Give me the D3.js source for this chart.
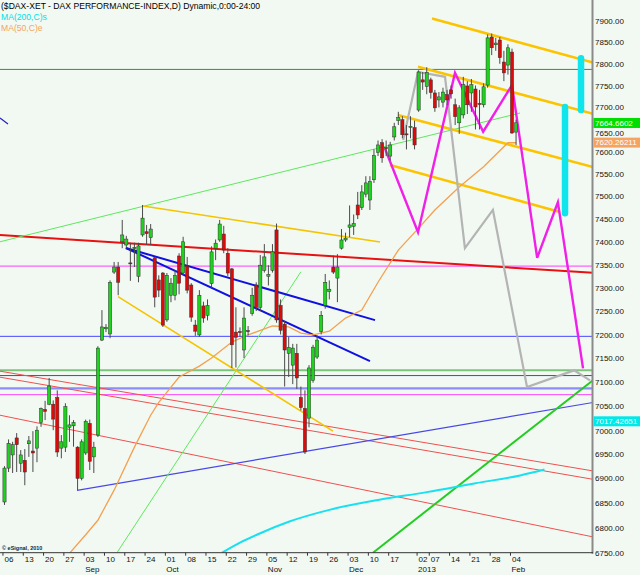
<!DOCTYPE html>
<html>
<head>
<meta charset="utf-8">
<script src="https://cdn.jsdelivr.net/npm/d3@7"></script>
<style>
  body { margin: 0; background: #fff; }
  svg { display: block; font-family: "Liberation Sans", Arial, sans-serif; }
</style>
</head>
<body>
<svg id="chart" width="640" height="575"></svg>
<script>
// daily bars, index 0 = 06 Aug 2012 (trading days only)
const open  = [6852,6921,6948,6983,6931,6937,6971,6956,6962,7015,7042,7053,7053,7067,6962,6964,7005,7008,6964,6900,
               6952,7013,6944,6989,7188,7212,7201,7334,7345,7400,7393,7354,7385,7325,7415,7422,7409,7365,7317,7332,
               7231,7284,7284,7369,7332,7347,7306,7220,7199,7261,7241,7309,7386,7404,7417,7375,7341,7205,7206,7167,
               7208,7245,7306,7258,7338,7325,7338,7426,7262,7222,7160,7135,7160,7067,7044,7024,7103,7152,7206,7262,
               7292,7345,7321,7386,7404,7432,7434,7481,7475,7505,7492,7537,7598,7620,7609,7590,7633,7670,7672,7640,
               7655,7654,7694,7763,7748,7763,7733,7717,7712,7729,7740,7706,7665,7683,7749,7733,7742,7709,7706,7751,
               7862,7844,7855,7804,7797,7827,7644];
const high  = [6925,6980,6975,6993,6958,6960,6987,6997,7007,7046,7060,7108,7061,7082,6989,7055,7030,7020,6966,6980,
               7021,7021,6975,7175,7252,7222,7316,7356,7356,7448,7413,7398,7398,7398,7481,7437,7439,7367,7327,7334,
               7332,7321,7338,7375,7411,7367,7310,7231,7295,7270,7275,7390,7405,7448,7435,7386,7343,7258,7215,7258,
               7218,7300,7312,7371,7395,7349,7395,7440,7275,7229,7195,7180,7180,7090,7082,7135,7178,7198,7250,7330,
               7316,7370,7373,7428,7420,7480,7460,7510,7525,7545,7545,7605,7625,7628,7625,7622,7665,7690,7680,7660,
               7680,7670,7785,7781,7792,7768,7740,7735,7745,7740,7750,7720,7705,7770,7760,7765,7750,7740,7755,7868,
               7870,7860,7862,7830,7845,7835,7672];
const low   = [6846,6913,6911,6913,6913,6886,6944,6913,6933,7006,7020,7051,6999,6944,6941,6954,6975,6965,6876,6896,
               6948,6917,6911,6985,7186,7205,7192,7330,7284,7386,7386,7315,7345,7312,7411,7393,7393,7258,7280,7216,
               7227,7269,7273,7286,7327,7288,7227,7197,7195,7225,7230,7300,7360,7400,7375,7325,7129,7130,7195,7150,
               7198,7240,7250,7250,7333,7305,7333,7225,7200,7090,7110,7095,7085,7040,6950,7005,7098,7148,7200,7255,
               7275,7330,7269,7383,7400,7410,7415,7450,7470,7498,7470,7530,7590,7575,7590,7580,7625,7660,7630,7605,
               7630,7605,7690,7740,7730,7720,7690,7700,7700,7705,7720,7660,7640,7675,7685,7690,7650,7650,7700,7745,
               7820,7830,7800,7760,7775,7640,7615];
const close = [6921,6972,6969,6969,6948,6913,6977,6952,6999,7044,7038,7091,7022,6954,6975,7048,7010,7015,6900,6975,
               7017,6935,6964,7171,7216,7215,7312,7345,7312,7415,7406,7352,7388,7391,7452,7418,7428,7280,7295,7220,
               7327,7310,7327,7310,7400,7295,7237,7207,7284,7235,7262,7378,7397,7439,7382,7332,7178,7194,7205,7235,
               7207,7284,7258,7349,7367,7329,7378,7231,7209,7167,7172,7171,7108,7046,6954,7129,7173,7188,7241,7312,
               7297,7334,7345,7404,7408,7437,7440,7459,7510,7530,7533,7591,7615,7586,7607,7615,7656,7677,7638,7638,
               7657,7615,7781,7758,7780,7734,7699,7724,7735,7717,7731,7679,7699,7752,7706,7752,7701,7708,7747,7860,
               7837,7848,7814,7779,7837,7642,7665];

// x axis: first bar of each week
const weekStarts = [0,5,10,15,20,25,30,35,40,45,50,55,60,65,70,75,80,85,90,95,102,105,110,115,120,125];
const dayLabels  = ["06","13","20","27","03","10","17","24","01","08","15","22","29","05","12","19","26","03","10","17","02","07","14","21","28","04"];
const monthAt    = [20,40,65,85,102,125];
const monthNames = ["Sep","Oct","Nov","Dec","2013","Feb"];

// moving averages (bar index, value)
const ma50Idx  = [15.6,20,23,27,32,36,38,43,48,51,56,60,66,70,73,76,80,84,88,92,97,102,106,112,118,124,126];
const ma50Val  = [6745,6786,6815,6876,6964,7030,7057,7110,7133,7150,7184,7199,7218,7216,7203,7199,7207,7235,7252,7312,7382,7430,7470,7521,7566,7620,7620];
const ma200Idx = [53.6,58,63,70,80,92,104,116,127,133];
const ma200Val = [6750,6770,6789,6812,6836,6856,6872,6890,6906,6918];

// drawn tools
const hLevels = [7787, 7347, 7196, 7124, 7113, 7086, 7073];
const hColors = ["#3d8c3d", "#ff3cff", "#4646ff", "#7cc47c", "#3c3cff", "#8c8cff", "#ff46ff"];
const hWidths = [1, 1, 1, 2, 1, 2.2, 1];

const trendLines = [ // [i1, v1, i2, v2, colour, width]
  [-1.11, 7414.7, 144.95, 7332.4, "#e81010", 2],
  [-1.11, 7122.2, 144.95, 6915.2, "#f05050", 1],
  [-1.11, 7109.6, 144.95, 6898.1, "#f05050", 1],
  [-1.11, 7030.1, 144.95, 6781.6, "#f05050", 1],
  [17.86, 6875.6, 144.95, 7056.6, "#4848e8", 1.2],
  [-1.11, 7675.8, 0.86, 7662.2, "#2020c0", 1.2],
  [-1.11, 7400.1, 126.97, 7687.2, "#5ee85e", 1],
  [27.7, 6750, 73.0, 7334.6, "#5ee85e", 1],
  [90.76, 6750, 144.95, 7103.3, "#22cc22", 2],
  [34.1, 7478.6, 92.5, 7399.5, "#f5c400", 1.6],
  [27.96, 7281.0, 80.9, 6997.0, "#f5c400", 1.6],
  [105.3, 7904.9, 144.95, 7802.7, "#fcc400", 2.6],
  [101.85, 7793.2, 144.95, 7685.6, "#fcc400", 2.6],
  [96.9, 7682.7, 144.95, 7565.4, "#fcc400", 2.6],
  [94.95, 7569.9, 136.8, 7465.3, "#fcc400", 2.6],
  [29.9, 7386.4, 91.26, 7230.6, "#1010e0", 2],
  [29.9, 7386.4, 90.02, 7143.3, "#1010e0", 2]
];
const pinkIdx = [93.7, 101.85, 110.96, 117.9, 125.0, 131.2, 136.3, 142.5];
const pinkVal = [7607, 7421, 7779, 7645, 7751, 7365, 7487, 7128];
const grayIdx = [98.2, 101.85, 108.5, 113.4, 120.3, 128.7, 140.3, 144.2];
const grayVal = [7626, 7781, 7770, 7386, 7470, 7089, 7124, 7103];
const targetIdx = [138.06, 142.0];
const targetLo  = [7463, 7694];
const targetHi  = [7701, 7813];

const valueLabels = [
  {v: 7664.6602, text: "7664.6602", fill: "#00dd00"},
  {v: 7620.26211, text: "7620.26211", fill: "#f4a460"},
  {v: 7017.42651, text: "7017.42651", fill: "#00e8e8"}
];

const width = 640, height = 575;
const plotRight = 593, plotBottom = 552.7;

const svg = d3.select("#chart");
svg.append("rect").attr("width", width).attr("height", height).attr("fill", "#f2f9f2");

const x = d3.scaleLinear().domain([-1.108, 144.95]).range([0, plotRight]);
const y = d3.scaleLog().domain([6750, 7900]).range([plotBottom, 20.7]);

svg.append("clipPath").attr("id", "clip")
  .append("rect").attr("x", 0).attr("y", 0).attr("width", plotRight).attr("height", plotBottom);

const plot = svg.append("g").attr("clip-path", "url(#clip)");

// horizontal levels
plot.append("g").selectAll("line")
  .data(hLevels)
  .join("line")
  .attr("x1", 0).attr("x2", plotRight)
  .attr("y1", d => y(d)).attr("y2", d => y(d))
  .attr("stroke", (d, i) => hColors[i])
  .attr("stroke-width", (d, i) => hWidths[i]);

// trend lines
plot.append("g").selectAll("line")
  .data(trendLines)
  .join("line")
  .attr("x1", d => x(d[0])).attr("y1", d => y(d[1]))
  .attr("x2", d => x(d[2])).attr("y2", d => y(d[3]))
  .attr("stroke", d => d[4])
  .attr("stroke-width", d => d[5]);

// moving averages
const line = d3.line().x(d => x(d[0])).y(d => y(d[1]));
plot.append("path")
  .attr("d", line.curve(d3.curveMonotoneX)(d3.zip(ma200Idx, ma200Val)))
  .attr("fill", "none").attr("stroke", "#18e0f0").attr("stroke-width", 2);
line.curve(d3.curveLinear);
plot.append("path")
  .attr("d", line(d3.zip(ma50Idx, ma50Val)))
  .attr("fill", "none").attr("stroke", "#f4a050").attr("stroke-width", 1.3);

// projections
plot.append("path")
  .attr("d", line(d3.zip(grayIdx, grayVal)))
  .attr("fill", "none").attr("stroke", "#b4b4b4").attr("stroke-width", 2.2);
plot.append("path")
  .attr("d", line(d3.zip(pinkIdx, pinkVal)))
  .attr("fill", "none").attr("stroke", "#f020e8").attr("stroke-width", 2.4);

plot.append("g").selectAll("line")
  .data(targetIdx)
  .join("line")
  .attr("x1", d => x(d)).attr("x2", d => x(d))
  .attr("y1", (d, i) => y(targetLo[i])).attr("y2", (d, i) => y(targetHi[i]))
  .attr("stroke", "#10e4ec").attr("stroke-width", 6.5).attr("stroke-linecap", "round");

// candles
const candles = plot.append("g").selectAll("g")
  .data(open.map((o, i) => ({i, o, h: high[i], l: low[i], c: close[i]})))
  .join("g");
candles.append("line")
  .attr("x1", d => x(d.i)).attr("x2", d => x(d.i))
  .attr("y1", d => y(d.h)).attr("y2", d => y(d.l))
  .attr("stroke", "#4a4a4a").attr("stroke-width", 1);
candles.append("rect")
  .attr("x", d => x(d.i) - 1.6)
  .attr("width", 3.2)
  .attr("y", d => y(Math.max(d.o, d.c)))
  .attr("height", d => Math.max(1, y(Math.min(d.o, d.c)) - y(Math.max(d.o, d.c))))
  .attr("fill", d => d.c >= d.o ? "#1fd21f" : "#dc0a0a")
  .attr("stroke", "#303030").attr("stroke-width", 0.5);

// right axis
const yTicks = d3.range(6750, 7901, 50);
const rAxis = svg.append("g")
  .attr("transform", `translate(${plotRight},0)`)
  .call(d3.axisRight(y).tickValues(yTicks).tickFormat(d3.format(".2f")).tickSize(0).tickPadding(2));
rAxis.select(".domain").remove();
rAxis.selectAll("text").attr("font-size", 8).attr("fill", "#111").attr("font-family", "Liberation Sans, Arial, sans-serif");
rAxis.selectAll(".tick").each(function(d) {
  const near = valueLabels.filter(l => Math.abs(y(l.v) - y(d)) < 10.5);
  if (near.length > 1) d3.select(this).remove();
  else if (near.length === 1) {
    const dy = y(d) > y(near[0].v) ? 10 : -10;
    d3.select(this).attr("transform", `translate(0,${y(near[0].v) + dy})`);
  }
});
svg.append("line")
  .attr("x1", plotRight - 0.5).attr("x2", plotRight - 0.5)
  .attr("y1", 0).attr("y2", plotBottom + 1)
  .attr("stroke", "#8a8a8a").attr("stroke-width", 2);

const vl = svg.append("g").selectAll("g").data(valueLabels).join("g")
  .attr("transform", d => `translate(${plotRight + 0.5},${y(d.v)})`);
vl.append("rect").attr("x", 0).attr("y", -5).attr("width", 47).attr("height", 10).attr("fill", d => d.fill);
vl.append("text").attr("x", 1.5).attr("dy", "0.35em").attr("font-size", 8).attr("fill", "#fff").text(d => d.text);

// bottom axis
const bAxis = svg.append("g")
  .attr("transform", `translate(0,${plotBottom})`)
  .call(d3.axisBottom(x).tickValues(weekStarts.map(i => i - 0.5)).tickSize(3).tickSizeOuter(0)
    .tickFormat((d, k) => dayLabels[k]));
bAxis.select(".domain").attr("d", `M0,0H${plotRight}`).attr("stroke", "#333");
bAxis.selectAll(".tick line").attr("stroke", "#333");
bAxis.selectAll("text").attr("text-anchor", "start").attr("dx", 1.5).attr("y", 4)
  .attr("font-size", 8).attr("fill", "#111").attr("font-family", "Liberation Sans, Arial, sans-serif");
svg.append("g").selectAll("text")
  .data(monthAt)
  .join("text")
  .attr("x", d => x(d - 0.5) + 1.5)
  .attr("y", 572)
  .attr("font-size", 8).attr("fill", "#111")
  .text((d, k) => monthNames[k]);

// header and footer text
svg.append("text").attr("x", 1).attr("y", 9).attr("font-size", 8.6).attr("fill", "#000")
  .text("($DAX-XET - DAX PERFORMANCE-INDEX,D) Dynamic,0:00-24:00");
svg.append("text").attr("x", 1).attr("y", 20).attr("font-size", 8.6).attr("fill", "#00e0e8").text("MA(200,C)s");
svg.append("text").attr("x", 1).attr("y", 31).attr("font-size", 8.6).attr("fill", "#f4a460").text("MA(50,C)e");
svg.append("text").attr("x", 2).attr("y", 550).attr("font-size", 5.5).attr("font-weight", "bold").attr("fill", "#222")
  .text("\u00a9 eSignal, 2010");
</script>
</body>
</html>
